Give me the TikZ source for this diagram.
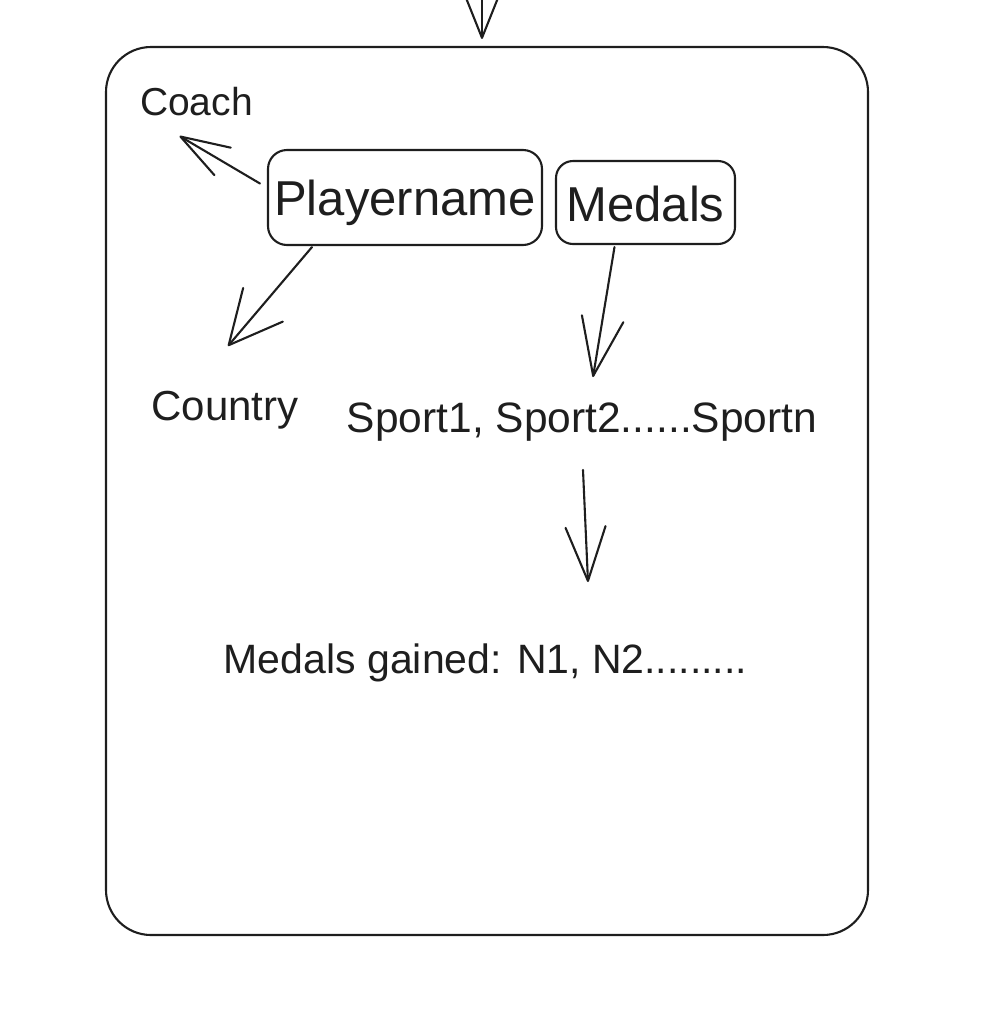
\documentclass[tikz,border=0pt]{standalone}
\usepackage{fontspec}
\setmainfont{Liberation Sans}
\usetikzlibrary{arrows.meta}
\definecolor{ink}{HTML}{1E1E1E}
\tikzset{
  stroke/.style={draw=ink, line width=2.1pt, line cap=round, line join=round},
  box/.style={stroke, rounded corners=19pt, inner sep=0pt, text=ink},
  label/.style={inner sep=0pt, anchor=base, text=ink},
  arr/.style 2 args={stroke, -{Straight Barb[length=#1pt, width=#2pt, round]}},
}
\begin{document}
\begin{tikzpicture}[x=1pt, y=-1pt]
\useasboundingbox (0,0) rectangle (990,1010);

% outer container
\node[stroke, rounded corners=45pt, minimum width=762pt, minimum height=888pt, inner sep=0pt]
  (outer) at (487,491) {};

% incoming connector from above
\coordinate (incoming) at (482,-60);
\draw[arr={40}{32}, shorten >=7pt] (incoming) -- (incoming |- outer.north);

% record boxes
\node[box, minimum width=274pt, minimum height=95pt, text height=36pt, text depth=0pt,
      font=\fontsize{49}{49}\selectfont] (pn) at (405,197.5) {Playername\hspace{12pt}};
\node[box, rounded corners=17pt, minimum width=179pt, minimum height=83pt, text height=38pt,
      text depth=0pt, font=\fontsize{49}{49}\selectfont] (md) at (645.5,202.5) {Medals\hspace{8pt}};

% attribute labels
\node[label, font=\fontsize{39}{39}\selectfont] (coach) at (196.5,115) {Coach};
\node[label, font=\fontsize{42}{42}\selectfont] (country) at (225,420) {Country};
\node[label, font=\fontsize{42.5}{42.5}\selectfont] (sports) at (582,432) {Sport1, Sport2......Sportn};
\node[label, font=\fontsize{41}{41}\selectfont] (gained) at (485.5,673) {Medals gained: N1, N2.........};

% connectors
\draw[arr={49}{32}] ([shift={(-7,-14)}]pn.west) -- ([shift={(-17,21)}]coach.base);
\draw[arr={53}{52}] ([shift={(-93,1)}]pn.south) -- ([shift={(3,-74)}]country.base);
\draw[arr={58}{42}] ([shift={(-31,2)}]md.south) -- ([shift={(11,-55)}]sports.base);
\draw[arr={54}{40}] ([shift={(1,38)}]sports.base) -- ([shift={(102.5,-91)}]gained.base);
\end{tikzpicture}
\end{document}
